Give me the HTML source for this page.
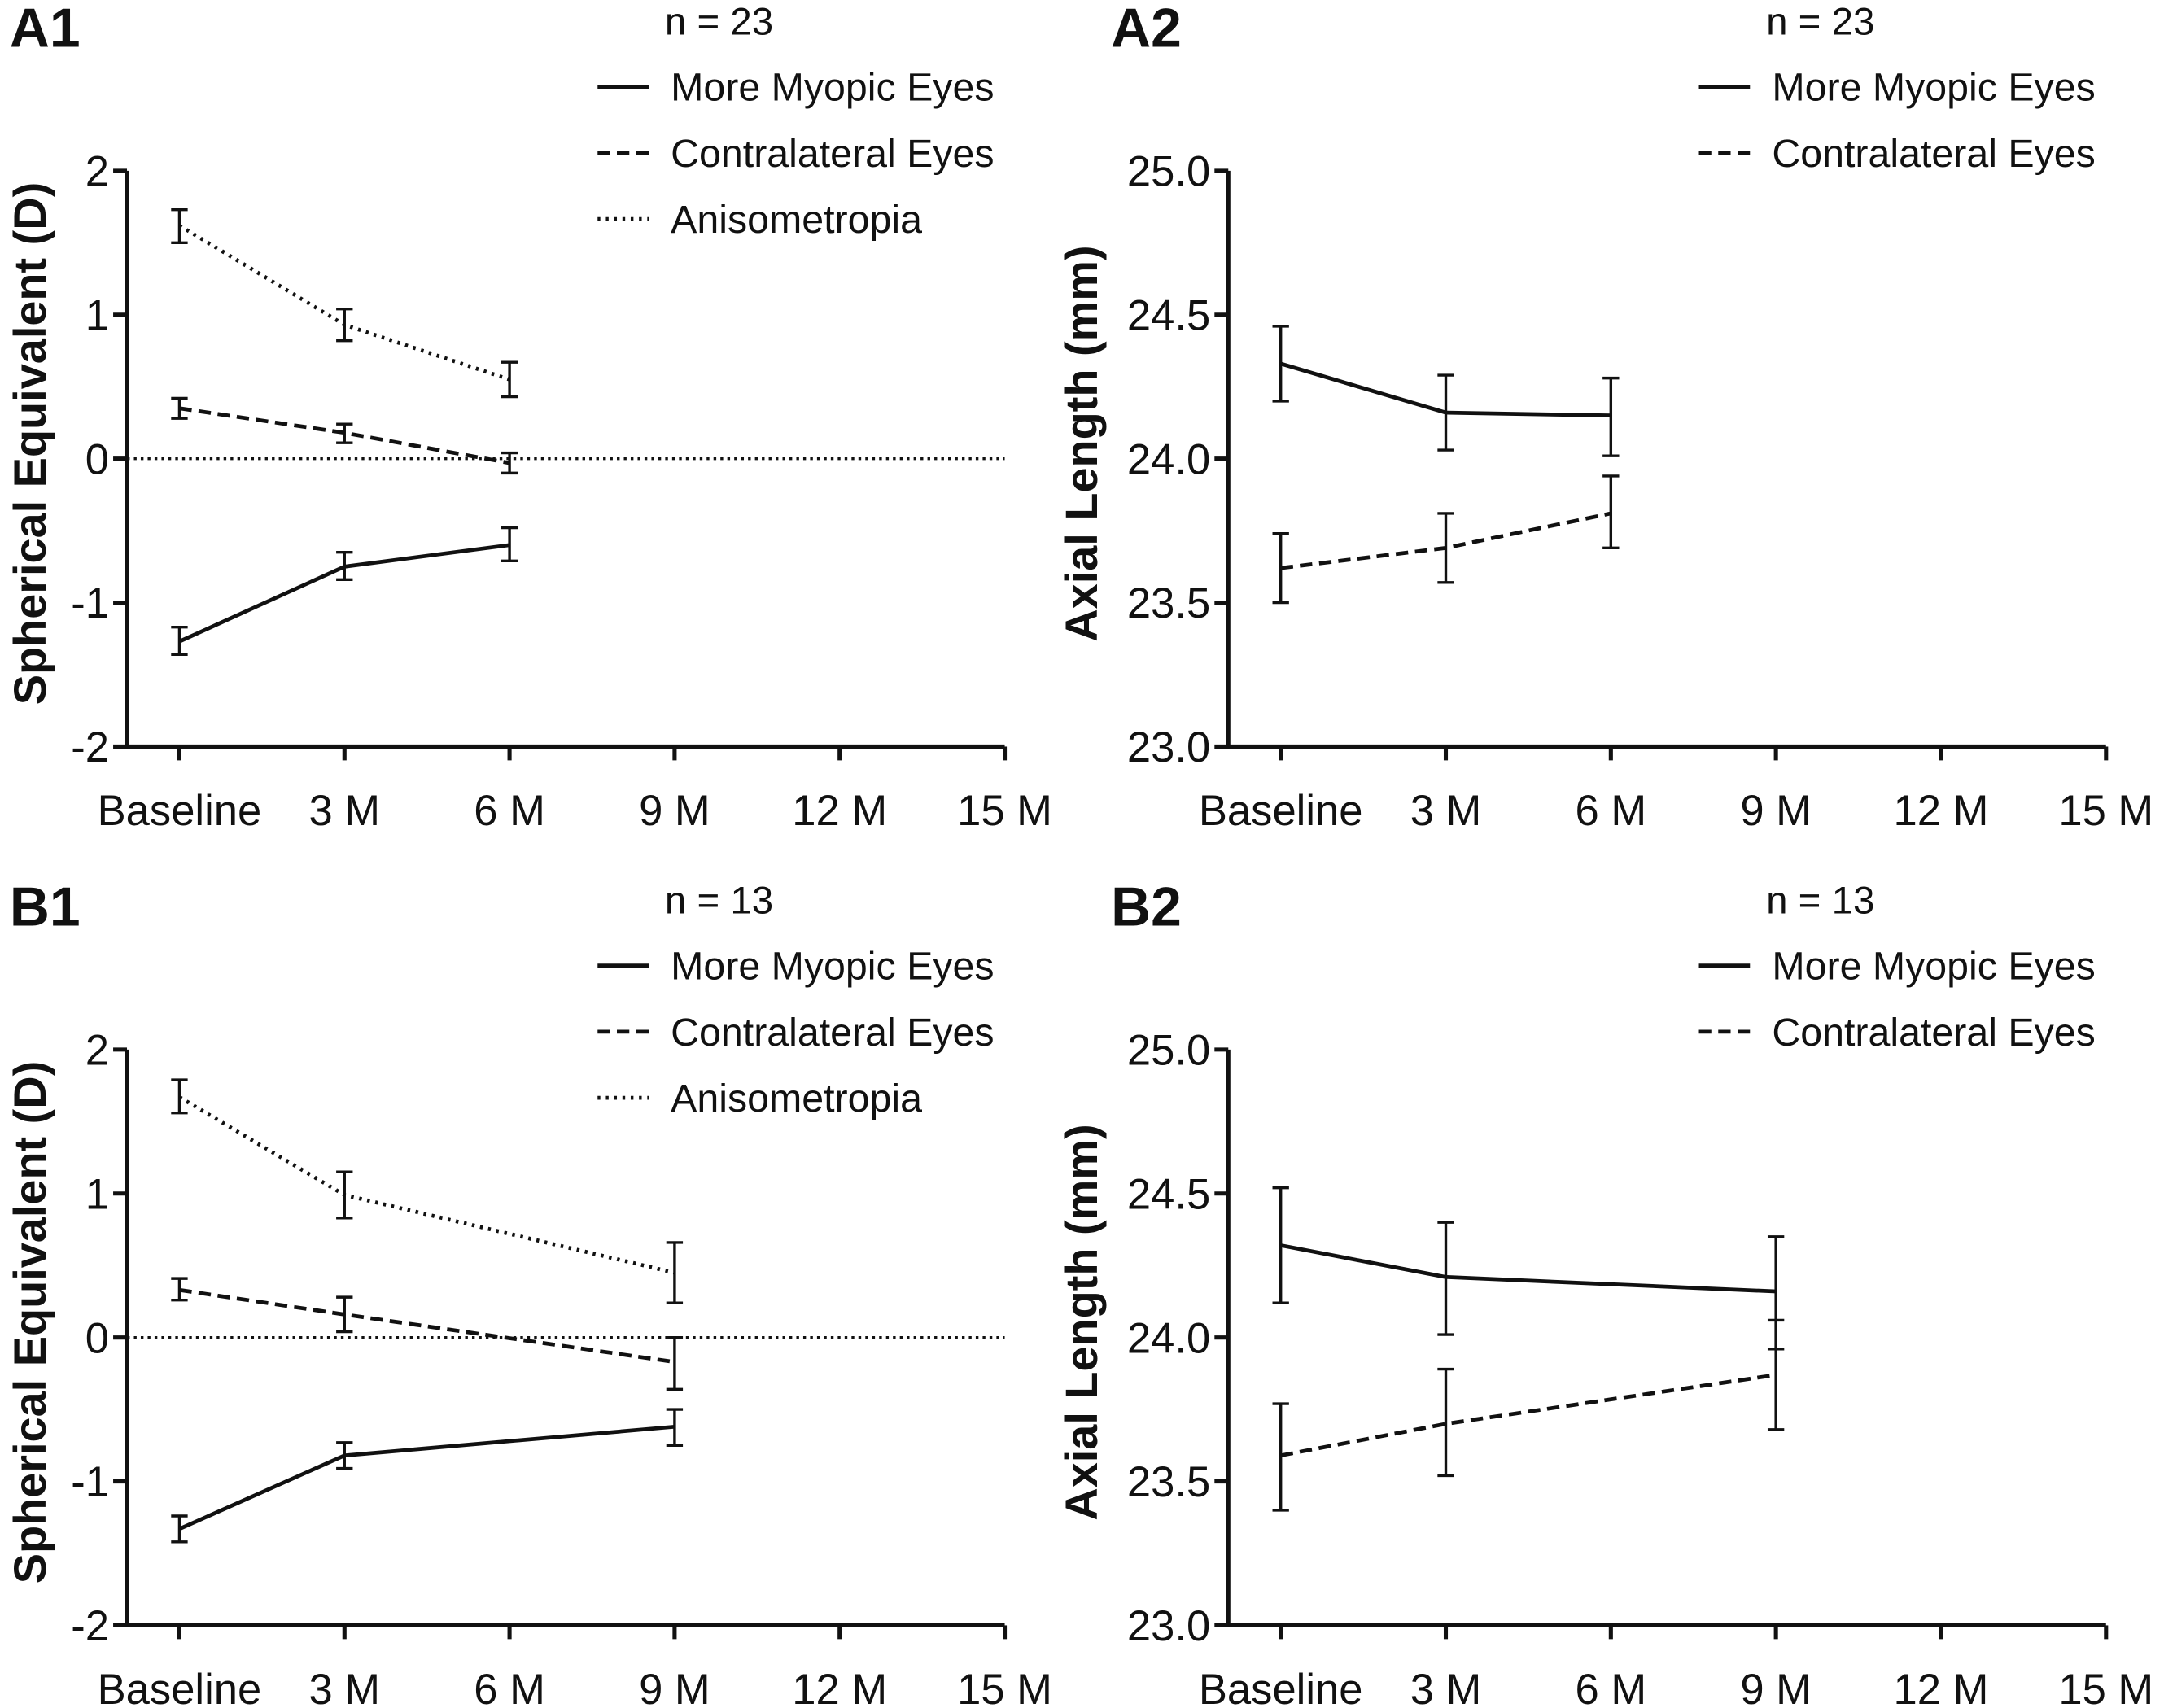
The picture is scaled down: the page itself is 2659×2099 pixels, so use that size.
<!DOCTYPE html>
<html><head><meta charset="utf-8"><style>
html,body{margin:0;padding:0;background:#fff;}
svg{display:block;}
text{font-family:"Liberation Sans",sans-serif;fill:#111;}
</style></head><body>
<svg id="fig" width="2659" height="2099" viewBox="0 0 1568 1240" preserveAspectRatio="none" xmlns="http://www.w3.org/2000/svg"></svg>
<script>
const xCats = ["Baseline","3 M","6 M","9 M","12 M","15 M"];
const seTicks = [2,1,0,-1,-2];
const seTickLabels = ["2","1","0","-1","-2"];
const alTicks = [25.0,24.5,24.0,23.5,23.0];
const alTickLabels = ["25.0","24.5","24.0","23.5","23.0"];
const a1Idx = [0,1,2];
const a1Aniso = [1.62,0.93,0.55];
const a1AnisoLo = [1.50,0.82,0.43];
const a1AnisoHi = [1.73,1.04,0.67];
const a1Contra = [0.35,0.18,-0.03];
const a1ContraLo = [0.28,0.11,-0.10];
const a1ContraHi = [0.42,0.24,0.04];
const a1Myo = [-1.27,-0.75,-0.60];
const a1MyoLo = [-1.36,-0.84,-0.71];
const a1MyoHi = [-1.17,-0.65,-0.48];
const a2Myo = [24.33,24.16,24.15];
const a2MyoLo = [24.20,24.03,24.01];
const a2MyoHi = [24.46,24.29,24.28];
const a2Contra = [23.62,23.69,23.81];
const a2ContraLo = [23.50,23.57,23.69];
const a2ContraHi = [23.74,23.81,23.94];
const bIdx = [0,1,3];
const b1Aniso = [1.67,0.99,0.45];
const b1AnisoLo = [1.56,0.83,0.24];
const b1AnisoHi = [1.79,1.15,0.66];
const b1Contra = [0.33,0.16,-0.17];
const b1ContraLo = [0.26,0.04,-0.36];
const b1ContraHi = [0.41,0.28,0.00];
const b1Myo = [-1.33,-0.82,-0.62];
const b1MyoLo = [-1.42,-0.91,-0.75];
const b1MyoHi = [-1.24,-0.73,-0.50];
const b2Myo = [24.32,24.21,24.16];
const b2MyoLo = [24.12,24.01,23.96];
const b2MyoHi = [24.52,24.40,24.35];
const b2Contra = [23.59,23.70,23.87];
const b2ContraLo = [23.40,23.52,23.68];
const b2ContraHi = [23.77,23.89,24.06];

const NS="http://www.w3.org/2000/svg";
const svg=document.getElementById('fig');
function el(tag,attrs,parent,txt){const e=document.createElementNS(NS,tag);for(const k in attrs)e.setAttribute(k,attrs[k]);if(txt!==undefined)e.textContent=txt;(parent||svg).appendChild(e);return e;}
const DASH={solid:"",dashed:"9 5",dotted:"2 4"};

function panel(o){
  const g=el('g',{});
  
  
  const x0=o.ax, x1=o.ax+636, yTop=o.top, yBot=o.top+418;
  const xs=i=>o.ax+38+i*119.6;
  const ys=v=>yBot-(v-o.min)/(o.max-o.min)*(yBot-yTop);
  let t=el('text',{x:o.ax-85,y:o.top-90,'font-size':40,'font-weight':'bold'},g,o.label);
  
  let ax=el('path',{d:`M${x0} ${yTop}V${yBot}H${x1}`,stroke:'#111','stroke-width':3,fill:'none'},g);
  
  o.ticks.forEach((v,i)=>{
    el('line',{x1:x0-10,x2:x0,y1:ys(v),y2:ys(v),stroke:'#111','stroke-width':3},g);
    let tl=el('text',{x:x0-13,y:ys(v)+11,'font-size':31,'text-anchor':'end'},g,o.tickLabels[i]);
    
  });
  xCats.forEach((c,i)=>{
    el('line',{x1:xs(i),x2:xs(i),y1:yBot,y2:yBot+10,stroke:'#111','stroke-width':3},g);
    let tl=el('text',{x:xs(i),y:yBot+57,'font-size':31,'text-anchor':'middle'},g,c);
    
  });
  const tx=o.ax-o.titleOff, ty=(yTop+yBot)/2-11;
  let yt=el('text',{x:tx,y:ty,'font-size':33,'font-weight':'bold','text-anchor':'middle',transform:`rotate(-90 ${tx} ${ty})`},g,o.yTitle);
  
  if(o.zero){let z=el('line',{x1:x0,x2:x1,y1:ys(0),y2:ys(0),stroke:'#111','stroke-width':2,'stroke-dasharray':'2 3'},g);
    }
  o.series.forEach(s=>{
    const pts=s.vals.map((v,i)=>xs(o.idx[i])+','+ys(v)).join(' ');
    let pl=el('polyline',{points:pts,fill:'none',stroke:'#111','stroke-width':2.8,'stroke-dasharray':DASH[s.style]},g);
    
    s.vals.forEach((v,i)=>{
      const x=xs(o.idx[i]),lo=ys(s.lo[i]),hi=ys(s.hi[i]);
      let eb=el('path',{d:`M${x} ${lo}V${hi}M${x-6} ${lo}H${x+6}M${x-6} ${hi}H${x+6}`,stroke:'#111','stroke-width':2,fill:'none'},g);
      
    });
  });
  const lx=o.ax+341;
  let nt=el('text',{x:lx+88,y:o.top-99,'font-size':28,'text-anchor':'middle'},g,o.n);
  
  o.series.slice().reverse().forEach((s,i)=>{
    const ly=o.top-61+i*48;
    let lg=el('g',{},g);
    
    el('line',{x1:lx,x2:lx+37,y1:ly,y2:ly,stroke:'#111','stroke-width':2.8,'stroke-dasharray':DASH[s.style]},lg);
    el('text',{x:lx+53,y:ly+10,'font-size':28.5},lg,s.legend);
  });
}
const mk=(name,legend,style,vals,lo,hi)=>({name,legend,style,vals,lo,hi});
panel({label:'A1',ax:92,top:124,titleOff:59,min:-2,max:2,ticks:seTicks,tickLabels:seTickLabels,yTitle:'Spherical Equivalent (D)',zero:true,n:'n = 23',idx:a1Idx,
  series:[mk('anisometropia','Anisometropia','dotted',a1Aniso,a1AnisoLo,a1AnisoHi),mk('contralateral','Contralateral Eyes','dashed',a1Contra,a1ContraLo,a1ContraHi),mk('more-myopic','More Myopic Eyes','solid',a1Myo,a1MyoLo,a1MyoHi)]});
panel({label:'A2',ax:890,top:124,titleOff:95,min:23,max:25,ticks:alTicks,tickLabels:alTickLabels,yTitle:'Axial Length (mm)',zero:false,n:'n = 23',idx:a1Idx,
  series:[mk('contralateral','Contralateral Eyes','dashed',a2Contra,a2ContraLo,a2ContraHi),mk('more-myopic','More Myopic Eyes','solid',a2Myo,a2MyoLo,a2MyoHi)]});
panel({label:'B1',ax:92,top:762,titleOff:59,min:-2,max:2,ticks:seTicks,tickLabels:seTickLabels,yTitle:'Spherical Equivalent (D)',zero:true,n:'n = 13',idx:bIdx,
  series:[mk('anisometropia','Anisometropia','dotted',b1Aniso,b1AnisoLo,b1AnisoHi),mk('contralateral','Contralateral Eyes','dashed',b1Contra,b1ContraLo,b1ContraHi),mk('more-myopic','More Myopic Eyes','solid',b1Myo,b1MyoLo,b1MyoHi)]});
panel({label:'B2',ax:890,top:762,titleOff:95,min:23,max:25,ticks:alTicks,tickLabels:alTickLabels,yTitle:'Axial Length (mm)',zero:false,n:'n = 13',idx:bIdx,
  series:[mk('contralateral','Contralateral Eyes','dashed',b2Contra,b2ContraLo,b2ContraHi),mk('more-myopic','More Myopic Eyes','solid',b2Myo,b2MyoLo,b2MyoHi)]});
</script>
</body></html>
